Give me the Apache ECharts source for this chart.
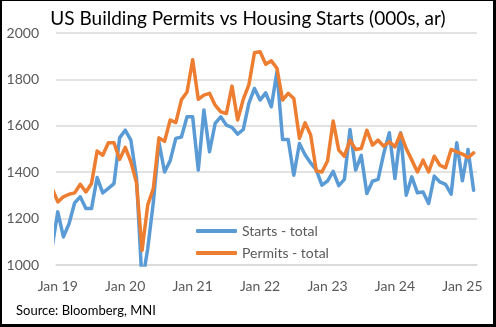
<!DOCTYPE html>
<html>
<head>
<meta charset="utf-8">
<script src="https://cdn.jsdelivr.net/npm/echarts@6/dist/echarts.min.js"></script>
<style>
html,body{margin:0;padding:0;background:#fff;}
#chart{width:496px;height:327px;}
</style>
</head>
<body>
<div id="chart"></div>
<script>
// Months: Dec 18 (partly outside the plot) to Mar 25
const months = [
  'Dec 18',
  'Jan 19','Feb 19','Mar 19','Apr 19','May 19','Jun 19','Jul 19','Aug 19','Sep 19','Oct 19','Nov 19','Dec 19',
  'Jan 20','Feb 20','Mar 20','Apr 20','May 20','Jun 20','Jul 20','Aug 20','Sep 20','Oct 20','Nov 20','Dec 20',
  'Jan 21','Feb 21','Mar 21','Apr 21','May 21','Jun 21','Jul 21','Aug 21','Sep 21','Oct 21','Nov 21','Dec 21',
  'Jan 22','Feb 22','Mar 22','Apr 22','May 22','Jun 22','Jul 22','Aug 22','Sep 22','Oct 22','Nov 22','Dec 22',
  'Jan 23','Feb 23','Mar 23','Apr 23','May 23','Jun 23','Jul 23','Aug 23','Sep 23','Oct 23','Nov 23','Dec 23',
  'Jan 24','Feb 24','Mar 24','Apr 24','May 24','Jun 24','Jul 24','Aug 24','Sep 24','Oct 24','Nov 24','Dec 24',
  'Jan 25','Feb 25','Mar 25'
];
const tickLabels = ['Jan 19','Jan 20','Jan 21','Jan 22','Jan 23','Jan 24','Jan 25'];
const startsTotal = [
  1080,
  1229,1121,1178,1268,1294,1243,1243,1377,1311,1330,1351,1548,
  1581,1538,1376,920,1070,1270,1530,1401,1450,1546,1552,1639,
  1639,1409,1668,1488,1610,1639,1603,1593,1564,1584,1697,1761,
  1711,1742,1682,1833,1541,1541,1387,1524,1475,1440,1410,1344,
  1362,1404,1342,1369,1584,1409,1473,1308,1361,1369,1480,1570,
  1373,1570,1301,1380,1311,1315,1265,1383,1358,1348,1305,1527,
  1363,1498,1322
];
const permitsTotal = [
  1330,
  1272,1294,1305,1311,1348,1315,1351,1491,1473,1527,1527,1455,
  1507,1445,1355,1063,1258,1330,1548,1533,1625,1614,1712,1746,
  1885,1714,1732,1740,1689,1660,1653,1771,1625,1714,1776,1915,
  1919,1865,1880,1848,1711,1740,1718,1546,1613,1560,1405,1401,
  1448,1621,1495,1469,1538,1498,1502,1581,1517,1538,1512,1531,
  1509,1567,1502,1452,1401,1452,1401,1469,1430,1419,1498,1488,
  1478,1463,1483
];
const seriesNames = ['Starts - total', 'Permits - total'];

// month index: 0 = Jan 19
const toPairs = arr => arr.map((v, i) => [i - 1, v]);
const tickValues = tickLabels.map(t => months.indexOf(t) - 1);

const FONT = 'Lato, "Open Sans", sans-serif';
const chart = echarts.init(document.getElementById('chart'), null, {renderer: 'canvas'});
chart.setOption({
  animation: false,
  backgroundColor: '#ffffff',
  title: {
    text: 'US Building Permits vs Housing Starts (000s, ar)',
    left: 'center',
    top: 4,
    textStyle: {fontFamily: FONT, fontSize: 19, fontWeight: 'normal', color: '#000000'}
  },
  grid: {left: 56, right: 19, top: 33, bottom: 62},
  xAxis: {
    type: 'value',
    min: -0.32,
    max: 74.6,
    splitLine: {show: false},
    axisLine: {show: true, lineStyle: {color: '#d9d9d9', width: 1.5}},
    axisTick: {show: false},
    axisLabel: {
      customValues: tickValues,
      formatter: v => months[Math.round(v) + 1],
      color: '#595959', fontFamily: FONT, fontSize: 14, margin: 14
    }
  },
  yAxis: {
    type: 'value',
    min: 1000, max: 2000, interval: 200,
    axisLine: {show: false},
    axisTick: {show: false},
    splitLine: {lineStyle: {color: '#d9d9d9', width: 1.5}},
    axisLabel: {color: '#595959', fontFamily: FONT, fontSize: 14, margin: 17,
      formatter: v => String(v)}
  },
  legend: {
    orient: 'vertical',
    left: 191, top: 219,
    icon: 'roundRect',
    itemWidth: 41, itemHeight: 4,
    itemGap: 8,
    textStyle: {color: '#595959', fontFamily: FONT, fontSize: 14},
    data: seriesNames
  },
  series: [
    {
      name: seriesNames[0], type: 'line', data: toPairs(startsTotal),
      showSymbol: false, symbol: 'none', clip: true,
      color: '#5B9BD5',
      lineStyle: {width: 3.5, color: '#5B9BD5', cap: 'round', join: 'round'}
    },
    {
      name: seriesNames[1], type: 'line', data: toPairs(permitsTotal),
      showSymbol: false, symbol: 'none', clip: true,
      color: '#ED7D31',
      lineStyle: {width: 3.5, color: '#ED7D31', cap: 'round', join: 'round'}
    }
  ],
  graphic: [
    {type: 'text', left: 16, top: 304, style: {text: 'Source: Bloomberg, MNI', fontFamily: FONT, fontSize: 13, fill: '#000000'}},
    {type: 'rect', shape: {x: 0, y: 0, width: 2, height: 327}, style: {fill: '#000'}},
    {type: 'rect', shape: {x: 0, y: 0, width: 496, height: 1}, style: {fill: '#000'}},
    {type: 'rect', shape: {x: 493, y: 0, width: 3, height: 327}, style: {fill: '#000'}},
    {type: 'rect', shape: {x: 0, y: 324, width: 496, height: 3}, style: {fill: '#000'}}
  ]
});
</script>
</body>
</html>
